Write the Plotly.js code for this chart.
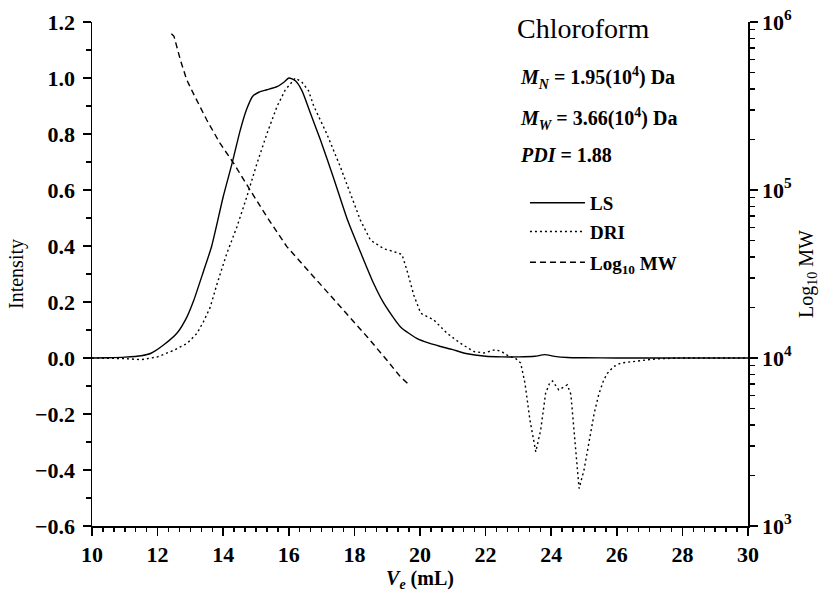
<!DOCTYPE html>
<html>
<head>
<meta charset="utf-8">
<script src="https://cdn.plot.ly/plotly-3.0.1.min.js"></script>
<style>
  html, body { margin: 0; padding: 0; background: #fff; }
  #chart { width: 824px; height: 592px; }
</style>
</head>
<body>
<div id="chart"></div>
<script>
// Elution volume (mL) and normalised light-scattering intensity
const lsVe = [10, 10.5, 11, 11.5, 11.8, 12.2, 12.6, 12.9, 13.1, 13.4, 13.65, 14.0, 14.27, 14.52, 14.72, 14.9, 15.1, 15.33, 15.64, 15.85, 16.0, 16.2, 16.4, 16.66, 16.96, 17.36, 17.8, 18.2, 18.58, 18.9, 19.4, 19.9, 20.3, 20.6, 21.0, 21.4, 22.0, 22.5, 23.0, 23.5, 23.8, 24.1, 24.5, 25, 26, 28, 30];
const lsIntensity = [0, 0.001, 0.003, 0.008, 0.017, 0.048, 0.09, 0.148, 0.205, 0.31, 0.40, 0.576, 0.695, 0.814, 0.89, 0.935, 0.95, 0.958, 0.969, 0.985, 1.0, 0.99, 0.955, 0.874, 0.78, 0.645, 0.49, 0.374, 0.268, 0.195, 0.112, 0.07, 0.052, 0.042, 0.03, 0.016, 0.006, 0.004, 0.004, 0.006, 0.012, 0.006, 0.002, 0.001, 0, 0, 0];

// Differential refractive index trace
const driVe = [10, 11, 11.5, 12.0, 12.5, 12.9, 13.2, 13.4, 13.6, 13.8, 14.1, 14.42, 14.72, 15.03, 15.33, 15.64, 15.89, 16.2, 16.4, 16.6, 16.76, 17.16, 17.57, 17.88, 18.18, 18.49, 18.9, 19.2, 19.45, 19.6, 19.81, 20.02, 20.42, 20.83, 21.24, 21.64, 21.95, 22.3, 22.5, 22.7, 22.9, 23.07, 23.2, 23.35, 23.53, 23.68, 23.83, 23.95, 24.04, 24.23, 24.35, 24.49, 24.6, 24.7, 24.85, 25.0, 25.16, 25.31, 25.45, 25.6, 25.71, 25.9, 26.12, 26.43, 26.8, 27.2, 28, 30];
const driIntensity = [0, -0.002, -0.006, 0.004, 0.028, 0.052, 0.088, 0.13, 0.18, 0.26, 0.37, 0.469, 0.576, 0.695, 0.80, 0.898, 0.957, 1.0, 0.985, 0.955, 0.90, 0.80, 0.683, 0.588, 0.493, 0.421, 0.39, 0.38, 0.37, 0.314, 0.225, 0.16, 0.136, 0.088, 0.052, 0.023, 0.018, 0.03, 0.022, 0.007, 0.0, -0.018, -0.09, -0.22, -0.335, -0.257, -0.126, -0.09, -0.082, -0.114, -0.105, -0.096, -0.13, -0.26, -0.466, -0.40, -0.293, -0.198, -0.13, -0.079, -0.055, -0.031, -0.018, -0.013, -0.007, -0.003, 0, 0];

// Molecular weight calibration (Da) across the peak
const mwVe = [12.42, 12.5, 12.7, 12.89, 13.1, 13.3, 13.5, 13.9, 14.32, 14.82, 15.33, 15.94, 16.35, 16.66, 17.37, 17.8, 18.4, 19.0, 19.4, 19.68];
const mw = [851000, 822000, 589000, 452000, 372000, 313000, 261000, 190000, 144000, 100000, 69300, 46000, 37400, 31900, 22400, 18000, 13300, 9660, 7740, 6900];

// Right-axis labels
const mwTickVals = [1e3, 1e4, 1e5, 1e6];
const mwTickText = ['10<sup>3</sup>', '10<sup>4</sup>', '10<sup>5</sup>', '10<sup>6</sup>'];

const serif = 'Liberation Serif, Times New Roman, serif';

// minor tick positions: log digits on the MW axis
const minorMw = [];
[1e3, 1e4, 1e5].forEach(d => { for (let k = 2; k <= 9; k++) minorMw.push(k * d); });

const traces = [
  {
    x: lsVe, y: lsIntensity, name: 'LS', mode: 'lines',
    line: { color: '#000', width: 1.4, shape: 'spline', smoothing: 0.6 },
    legend: 'legend'
  },
  {
    // DRI sits on the companion Ve axis (same range) that carries the short ticks
    x: driVe, y: driIntensity, name: 'DRI', mode: 'lines', xaxis: 'x2',
    line: { color: '#000', width: 1.4, dash: '2px,3px' },
    legend: 'legend2'
  },
  {
    x: mwVe, y: mw, name: 'Log<sub>10</sub> MW', mode: 'lines', yaxis: 'y2',
    line: { color: '#000', width: 1.4, dash: '6px,4px' },
    legend: 'legend3'
  }
];

const tickFont = { family: serif, size: 22, color: '#000', weight: 'bold' };
const legendBase = {
  xanchor: 'left', yanchor: 'middle', bgcolor: 'rgba(0,0,0,0)',
  font: { family: serif, size: 19, color: '#000', weight: 'bold' },
  itemwidth: 55, borderwidth: 0
};

const layout = {
  width: 824, height: 592,
  margin: { l: 92, r: 76, t: 22, b: 66 },
  paper_bgcolor: '#fff', plot_bgcolor: '#fff',
  font: { family: serif, color: '#000' },
  showlegend: true,
  xaxis: {
    range: [10, 30], dtick: 2, tick0: 10,
    showline: true, linewidth: 1.5, linecolor: '#000',
    ticks: 'outside', ticklen: 8, tickwidth: 1.5, tickcolor: '#000',
    showgrid: false, zeroline: false,
    tickfont: tickFont,
    title: { text: '<i>V</i><sub><i>e</i></sub> (mL)', font: { family: serif, size: 20, color: '#000', weight: 'bold' }, standoff: 3 }
  },
  xaxis2: {
    overlaying: 'x', anchor: 'y', side: 'bottom',
    range: [10, 30], dtick: 0.3333333333333333, tick0: 10,
    ticks: 'outside', ticklen: 5, tickwidth: 1.5, tickcolor: '#000',
    showticklabels: false, showline: false, showgrid: false, zeroline: false
  },
  yaxis: {
    range: [-0.6, 1.2], dtick: 0.2, tick0: 0, tickformat: '.1f',
    showline: true, linewidth: 1.5, linecolor: '#000',
    ticks: 'outside', ticklen: 8, tickwidth: 1.5, tickcolor: '#000',
    ticklabelstandoff: 3,
    minor: { dtick: 0.1, ticks: 'outside', ticklen: 5, tickwidth: 1.5, tickcolor: '#000', showgrid: false },
    showgrid: false, zeroline: false,
    tickfont: tickFont,
    title: { text: 'Intensity', font: { family: serif, size: 20, color: '#000' }, standoff: 6 }
  },
  yaxis2: {
    overlaying: 'y', side: 'right', type: 'log', range: [3, 6],
    tickmode: 'array', tickvals: mwTickVals, ticktext: mwTickText,
    showline: true, linewidth: 1.5, linecolor: '#000',
    ticks: 'outside', ticklen: 8, tickwidth: 1.5, tickcolor: '#000',
    minor: { tickmode: 'array', tickvals: minorMw, ticks: 'outside', ticklen: 5, tickwidth: 1.5, tickcolor: '#000', showgrid: false },
    showgrid: false, zeroline: false,
    tickfont: tickFont,
    title: { text: 'Log<sub>10</sub> MW', font: { family: serif, size: 20, color: '#000' }, standoff: 8 }
  },
  legend: Object.assign({ x: 0.66, y: 0.641 }, legendBase),
  legend2: Object.assign({ x: 0.66, y: 0.584 }, legendBase),
  legend3: Object.assign({ x: 0.66, y: 0.523 }, legendBase),
  annotations: [
    { text: 'Chloroform', xref: 'paper', yref: 'paper', x: 0.645, y: 0.988, xanchor: 'left', yanchor: 'middle', showarrow: false,
      font: { family: serif, size: 28, color: '#000' } },
    { text: '<i>M</i><sub><i>N</i></sub> = 1.95(10<sup>4</sup>) Da', xref: 'paper', yref: 'paper', x: 0.65, y: 0.888, xanchor: 'left', yanchor: 'middle', showarrow: false,
      font: { family: serif, size: 20, color: '#000', weight: 'bold' } },
    { text: '<i>M</i><sub><i>W</i></sub> = 3.66(10<sup>4</sup>) Da', xref: 'paper', yref: 'paper', x: 0.65, y: 0.808, xanchor: 'left', yanchor: 'middle', showarrow: false,
      font: { family: serif, size: 20, color: '#000', weight: 'bold' } },
    { text: '<i>PDI</i> = 1.88', xref: 'paper', yref: 'paper', x: 0.65, y: 0.737, xanchor: 'left', yanchor: 'middle', showarrow: false,
      font: { family: serif, size: 20, color: '#000', weight: 'bold' } }
  ]
};

Plotly.newPlot('chart', traces, layout, { displayModeBar: false, staticPlot: true });
</script>
</body>
</html>
